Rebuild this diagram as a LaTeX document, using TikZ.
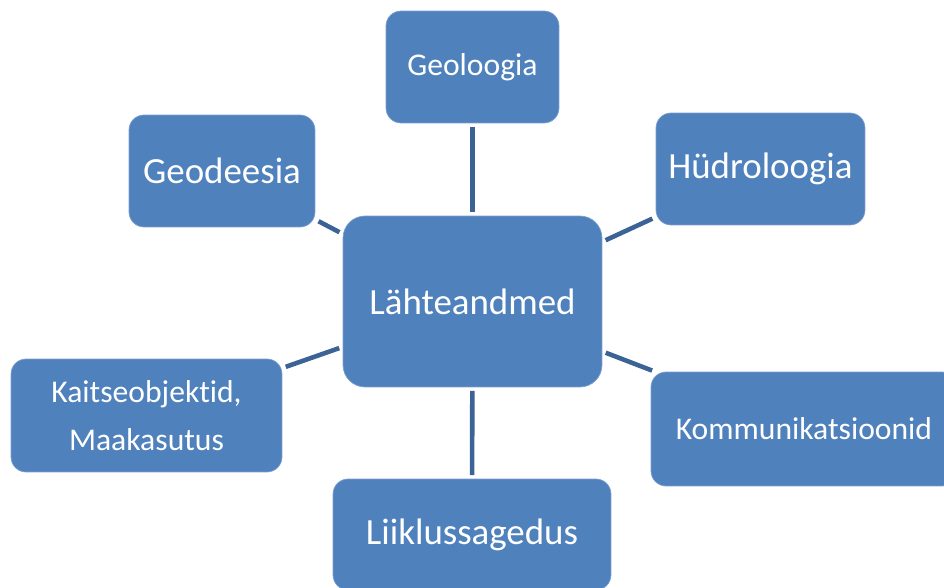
\documentclass[tikz,border=0pt]{standalone}
\usepackage{fontspec}
\setmainfont{Carlito}[Ligatures=NoCommon]
\definecolor{boxblue}{RGB}{79,129,189}
\definecolor{boxedge}{RGB}{125,160,208}
\definecolor{linkblue}{RGB}{60,99,149}

\begin{document}
\begin{tikzpicture}[x=0.02cm,y=-0.02cm,
  topic/.style={fill=boxblue, draw=boxedge, line width=0.4pt, rounded corners=0.3cm,
    text=white, align=center, inner sep=0pt, outer sep=0pt, minimum height=2.24cm},
  big/.style={font=\fontsize{21}{25}\selectfont},
  small/.style={font=\fontsize{18}{27}\selectfont},
  link/.style={linkblue, line width=2.6pt, shorten >=0.08cm, shorten <=0.08cm}]
  \useasboundingbox (0,0) rectangle (944,588);
  \clip (0,0) rectangle (944,588);
  % boxes
  \node[topic, big, minimum width=5.18cm, minimum height=3.42cm, rounded corners=0.44cm] (lahte) at (472.5,301.5) {Lähteandmed};
  \node[topic, small, minimum width=3.46cm] (geoloogia) at (472.5,67) {Geoloogia};
  \node[topic, big, minimum width=3.72cm] (geodeesia) at (222,171) {Geodeesia};
  \node[topic, big, minimum width=4.18cm] (hudro) at (760.5,169) {Hüdroloogia};
  \node[topic, small, minimum width=5.42cm, minimum height=2.26cm] (kaitse) at (146.5,415.5) {Kaitseobjektid,\\Maakasutus};
  \node[topic, small, minimum width=6.12cm, minimum height=2.28cm] (kommu) at (804,429) {Kommunikatsioonid};
  \node[topic, big, minimum width=5.56cm, minimum height=2.22cm] (liiklus) at (472,534.5) {Liiklussagedus};
  % links
  \draw[link] (lahte) -- (geoloogia);
  \draw[link] (lahte) -- (geodeesia);
  \draw[link] (lahte) -- (hudro);
  \draw[link] (lahte) -- (kaitse);
  \draw[link] (lahte) -- (kommu);
  \draw[link] (lahte) -- (liiklus);
\end{tikzpicture}
\end{document}
